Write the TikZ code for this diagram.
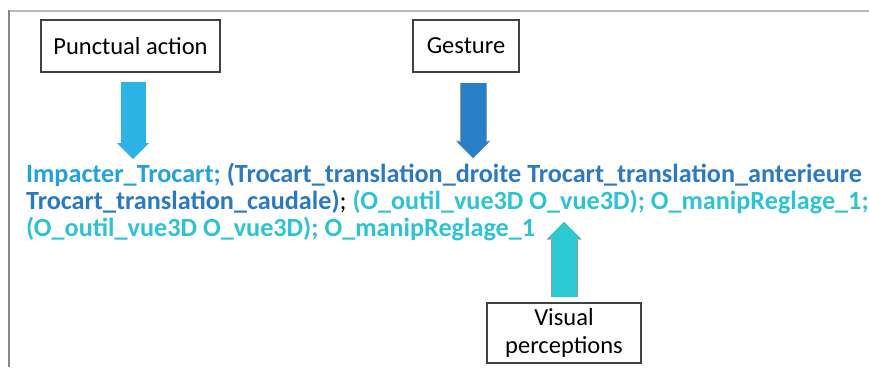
\documentclass[tikz,border=0pt]{standalone}
\usepackage{fontspec}
\setmainfont{Carlito}
\usetikzlibrary{arrows.meta}
\definecolor{actblue}{HTML}{22A2DC}
\definecolor{actarrow}{HTML}{2DB3E6}
\definecolor{gestblue}{HTML}{2B79C2}
\definecolor{gestarrow}{HTML}{2A80C8}
\definecolor{perccyan}{HTML}{2EC3D1}
\definecolor{percarrow}{HTML}{2BC9D2}
\definecolor{boxgray}{HTML}{404040}
\tikzset{
  labelbox/.style={draw=boxgray, line width=1.3pt, inner sep=0pt, align=center,
    font=\fontsize{24.5}{28}\selectfont},
  seqline/.style={anchor=base west, inner sep=0pt, font=\fontsize{26.2}{27}\selectfont\bfseries},
  fatarrow/.style={line width=25pt, -{Triangle[width=32pt,length=16pt,line width=0pt]}},
  rimmed/.style={preaction={draw=gray!80, line width=27pt,
    -{Triangle[width=35pt,length=17.5pt,line width=0pt]}}},
}

\begin{document}
\begin{tikzpicture}[x=1pt,y=-1pt]
\useasboundingbox (0,0) rectangle (869,367);

% frame
\draw[gray!55, line width=2pt] (9,11) -- (869,11);
\draw[gray!95, line width=2.5pt] (9,10) -- (9,367);

% boxes
\node[labelbox, minimum width=179, minimum height=52] (pa) at (130.5,46) {Punctual action};
\node[labelbox, minimum width=106, minimum height=52] (ge) at (466,46) {Gesture};
\node[labelbox, minimum width=154, minimum height=60] (vp) at (564,333) {Visual\\perceptions};

% sequence
\node[seqline] (l1) at (26,182) {%
{\color{actblue}Impacter\_Trocart;} {\color{gestblue}(Trocart\_translation\_droite Trocart\_translation\_anterieure}};
\node[seqline] (l2) at (26,209) {%
{\color{gestblue}Trocart\_translation\_caudale)}{\mdseries;} {\color{perccyan}(O\_outil\_vue3D O\_vue3D); O\_manipReglage\_1;}};
\node[seqline] (l3) at (26,236) {%
{\color{perccyan}(O\_outil\_vue3D O\_vue3D); O\_manipReglage\_1}};

% arrows
\coordinate (pa tip) at (133,159);
\coordinate (ge tip) at (473,158);
\coordinate (vp tip) at (564,222);
\draw[fatarrow, actarrow, shorten <=9pt] (pa.south -| pa tip) -- (pa tip);
\draw[fatarrow, rimmed, gestarrow, shorten <=10pt] (ge.south -| ge tip) -- (ge tip);
\draw[fatarrow, rimmed, percarrow, shorten <=5pt] (vp.north) -- (vp tip);

\end{tikzpicture}
\end{document}
